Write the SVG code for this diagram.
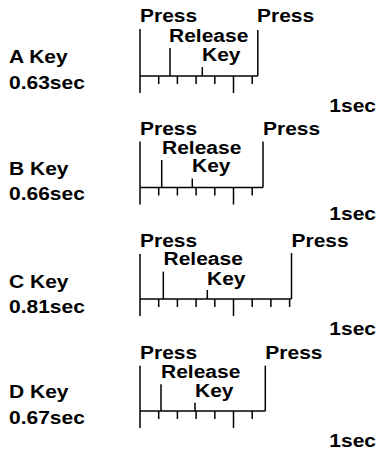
<svg xmlns="http://www.w3.org/2000/svg" width="377" height="452" viewBox="0 0 377 452">
  <defs>
    <style>
      text { font-family: "Liberation Sans", Arial, sans-serif; font-weight: bold; font-size: 21px; fill: #000; }
      .end { text-anchor: end; }
      line, path { stroke: #000; stroke-width: 1.5; fill: none; }
    </style>
    <!-- Scale of ten ticks at 18.7px (0.1 sec), long tick at 0.5 sec; origin on the axis -->
    <path id="ticks6" d="M140,0V17 M158.7,0V8 M177.4,0V8 M196.1,0V8 M214.8,0V8 M233.5,0V17 M252.2,0V8"/>
    <path id="ticks8" d="M140,0V17 M158.7,0V8 M177.4,0V8 M196.1,0V8 M214.8,0V8 M233.5,0V17 M252.2,0V8 M270.9,0V8 M289.6,0V8"/>
  </defs>

  <!-- A key: 0.63 sec -->
  <g id="key-a" transform="translate(0,76)">
    <g transform="scale(1,0.9)">
      <text x="9" y="-14.44">A Key</text>
      <text x="9" y="14.44">0.63sec</text>
      <text x="140" y="-60">Press</text>
      <text x="257" y="-60">Press</text>
      <text x="169" y="-37.78">Release</text>
      <text x="202" y="-16.67">Key</text>
      <text class="end" x="376" y="40">1sec</text>
    </g>
    <line x1="140" y1="-47" x2="140" y2="0"/>
    <line x1="140" y1="0" x2="257.8" y2="0"/>
    <line x1="257.8" y1="-46" x2="257.8" y2="0"/>
    <line x1="170" y1="-28" x2="170" y2="0"/>
    <line x1="202.3" y1="-9" x2="202.3" y2="0"/>
    <use href="#ticks6"/>
  </g>

  <!-- B key: 0.66 sec -->
  <g id="key-b" transform="translate(0,187.5)">
    <g transform="scale(1,0.9)">
      <text x="9" y="-13.89">B Key</text>
      <text x="9" y="14.22">0.66sec</text>
      <text x="140" y="-58.33">Press</text>
      <text x="263" y="-58.33">Press</text>
      <text x="162" y="-37.78">Release</text>
      <text x="192" y="-17.22">Key</text>
      <text class="end" x="376" y="36.67">1sec</text>
    </g>
    <line x1="140" y1="-46" x2="140" y2="0"/>
    <line x1="140" y1="0" x2="263" y2="0"/>
    <line x1="263" y1="-46" x2="263" y2="0"/>
    <line x1="161.7" y1="-27.5" x2="161.7" y2="0"/>
    <line x1="192.3" y1="-9" x2="192.3" y2="0"/>
    <use href="#ticks6"/>
  </g>

  <!-- C key: 0.81 sec -->
  <g id="key-c" transform="translate(0,299)">
    <g transform="scale(1,0.9)">
      <text x="9" y="-12.22">C Key</text>
      <text x="9" y="15.89">0.81sec</text>
      <text x="140" y="-58.11">Press</text>
      <text x="291.5" y="-58.11">Press</text>
      <text x="163.5" y="-37.78">Release</text>
      <text x="207" y="-15.56">Key</text>
      <text class="end" x="376" y="40">1sec</text>
    </g>
    <line x1="140" y1="-45" x2="140" y2="0"/>
    <line x1="140" y1="0" x2="291.5" y2="0"/>
    <line x1="291.5" y1="-46" x2="291.5" y2="0"/>
    <line x1="163.3" y1="-27.3" x2="163.3" y2="0"/>
    <line x1="207.3" y1="-9" x2="207.3" y2="0"/>
    <use href="#ticks8"/>
  </g>

  <!-- D key: 0.67 sec -->
  <g id="key-d" transform="translate(0,411)">
    <g transform="scale(1,0.9)">
      <text x="9" y="-14.11">D Key</text>
      <text x="9" y="14.78">0.67sec</text>
      <text x="140" y="-57.78">Press</text>
      <text x="265.3" y="-57.78">Press</text>
      <text x="161" y="-37">Release</text>
      <text x="195" y="-15.89">Key</text>
      <text class="end" x="376" y="39.67">1sec</text>
    </g>
    <line x1="140" y1="-45.3" x2="140" y2="0"/>
    <line x1="140" y1="0" x2="265.3" y2="0"/>
    <line x1="265.3" y1="-45.3" x2="265.3" y2="0"/>
    <line x1="161" y1="-26.7" x2="161" y2="0"/>
    <line x1="195" y1="-8.3" x2="195" y2="0"/>
    <use href="#ticks6"/>
  </g>
</svg>
